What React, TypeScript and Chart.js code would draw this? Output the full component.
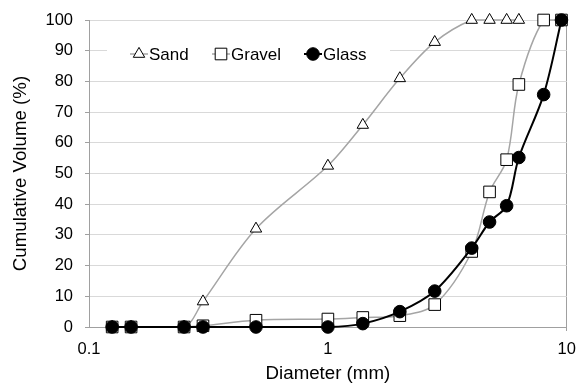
import React, { useEffect, useRef } from 'react';
import { Chart, registerables } from 'chart.js';

Chart.register(...registerables);

// ---- Data ----
const diameters = [0.125, 0.15, 0.25, 0.3, 0.5, 1, 1.4, 2, 2.8, 4, 4.75, 5.6, 6.3, 8, 9.5];
const sandValues = [0, 0, 0, 8.3, 32, 52.5, 65.8, 81, 92.8, 100, 100, 100, 100];
const gravelValues = [0, 0, 0, 0.4, 2.2, 2.6, 3.1, 3.7, 7.3, 24.6, 44, 54.5, 79, 100, 100];
const glassValues = [0, 0, 0, 0, 0, 0, 1.1, 5, 11.7, 25.7, 34.2, 39.5, 55.2, 75.7, 100];
const seriesNames = ['Sand', 'Gravel', 'Glass'];
const xTicks = [0.1, 1, 10];
const yMin = 0;
const yMax = 100;
const yStep = 10;
const xTitle = 'Diameter (mm)';
const yTitle = 'Cumulative Volume (%)';

const FONT = '"Liberation Sans", Arial, sans-serif';
const GRAY_LINE = '#a5a5a5';
const GRID = '#d9d9d9';
const AXIS = '#a0a0a0';

const toPoints = (vals: number[]) => vals.map((v, i) => ({ x: diameters[i], y: v }));

function drawMarker(ctx: CanvasRenderingContext2D, style: string, x: number, y: number, r: number, fill: string, stroke: string) {
  ctx.beginPath();
  if (style === 'triangle') {
    ctx.moveTo(x, y - r);
    ctx.lineTo(x + r * Math.sin((2 * Math.PI) / 3), y - r * Math.cos((2 * Math.PI) / 3));
    ctx.lineTo(x + r * Math.sin((4 * Math.PI) / 3), y - r * Math.cos((4 * Math.PI) / 3));
    ctx.closePath();
  } else if (style === 'rect') {
    const s = r * Math.SQRT1_2;
    ctx.rect(x - s, y - s, 2 * s, 2 * s);
  } else {
    ctx.arc(x, y, r, 0, Math.PI * 2);
    ctx.closePath();
  }
  ctx.fillStyle = fill;
  ctx.fill();
  ctx.lineWidth = 1;
  ctx.strokeStyle = stroke;
  ctx.stroke();
}

const insideLegend = {
  id: 'insideLegend',
  afterDatasetsDraw(chart: any) {
    const ctx: CanvasRenderingContext2D = chart.ctx;
    const ca = chart.chartArea;
    const cy = ca.top + 34;
    ctx.save();
    ctx.fillStyle = '#ffffff';
    ctx.fillRect(ca.left + 18, cy - 13, 283, 26);
    const markerX = [ca.left + 50, ca.left + 132, ca.left + 224];
    seriesNames.forEach((name, i) => {
      const ds = chart.data.datasets.find((d: any) => d.label === name);
      if (!ds) return;
      const mx = markerX[i];
      ctx.beginPath();
      ctx.moveTo(mx - 9, cy);
      ctx.lineTo(mx + 9, cy);
      ctx.strokeStyle = ds.borderColor;
      ctx.lineWidth = ds.borderWidth;
      ctx.stroke();
      drawMarker(ctx, ds.pointStyle, mx, cy, ds.pointRadius, ds.pointBackgroundColor, ds.pointBorderColor);
      ctx.fillStyle = '#000';
      ctx.font = `17px ${FONT}`;
      ctx.textBaseline = 'middle';
      ctx.textAlign = 'left';
      ctx.fillText(name, mx + 10, cy + 1);
    });
    ctx.restore();
  },
};

export default function App() {
  const ref = useRef<HTMLCanvasElement>(null);

  useEffect(() => {
    document.body.style.margin = '0';
    Chart.defaults.font.family = FONT;
    Chart.defaults.color = '#000';
    const chart = new Chart(ref.current!, {
      type: 'line',
      data: {
        datasets: [
          {
            label: seriesNames[2],
            data: toPoints(glassValues),
            borderColor: '#000000',
            borderWidth: 2,
            pointStyle: 'circle',
            pointRadius: 6.3,
            pointBackgroundColor: '#000000',
            pointBorderColor: '#000000',
            pointBorderWidth: 1,
            tension: 0.33,
            clip: false,
            order: 0,
          } as any,
          {
            label: seriesNames[1],
            data: toPoints(gravelValues),
            borderColor: GRAY_LINE,
            borderWidth: 1.5,
            pointStyle: 'rect',
            pointRadius: 8.2,
            pointBackgroundColor: '#ffffff',
            pointBorderColor: '#000000',
            pointBorderWidth: 1,
            tension: 0.33,
            clip: false,
            order: 1,
          } as any,
          {
            label: seriesNames[0],
            data: toPoints(sandValues),
            borderColor: GRAY_LINE,
            borderWidth: 1.5,
            pointStyle: 'triangle',
            pointRadius: 6.6,
            pointBackgroundColor: '#ffffff',
            pointBorderColor: '#000000',
            pointBorderWidth: 1,
            tension: 0.33,
            clip: false,
            order: 2,
          } as any,
        ],
      },
      options: {
        responsive: false,
        devicePixelRatio: 1,
        animation: false,
        layout: { padding: { top: 20, right: 9, left: 0, bottom: 0 } },
        plugins: {
          legend: { display: false },
          tooltip: { enabled: false },
        },
        scales: {
          x: {
            type: 'logarithmic',
            min: xTicks[0],
            max: xTicks[xTicks.length - 1],
            afterBuildTicks: (scale: any) => {
              scale.ticks = xTicks.map((v) => ({ value: v }));
            },
            afterFit: (scale: any) => {
              scale.height = 60;
              scale.paddingLeft = 0;
              scale.paddingRight = 0;
            },
            ticks: {
              autoSkip: false,
              maxRotation: 0,
              padding: 9,
              font: { size: 16.5 },
              callback: (v: any) => String(v),
            },
            grid: {
              color: (c: any) => (c.tick && c.tick.value === xTicks[xTicks.length - 1] ? AXIS : 'rgba(0,0,0,0)'),
              tickLength: 4,
              lineWidth: 1,
            },
            border: { display: true, color: AXIS, width: 1 },
            title: {
              display: true,
              text: xTitle,
              font: { size: 18.7 },
              padding: { top: 0, bottom: 1.5 },
            },
          },
          y: {
            type: 'linear',
            min: yMin,
            max: yMax,
            afterFit: (scale: any) => {
              scale.width = 89;
              scale.paddingTop = 0;
              scale.paddingBottom = 0;
            },
            ticks: {
              stepSize: yStep,
              padding: 12,
              font: { size: 16.5 },
            },
            grid: {
              color: GRID,
              tickColor: AXIS,
              tickLength: 4,
              lineWidth: 1,
            },
            border: { display: true, color: AXIS, width: 1 },
            title: {
              display: true,
              text: yTitle,
              font: { size: 18.7 },
              padding: { top: 9.3, bottom: 0 },
            },
          },
        },
      } as any,
      plugins: [insideLegend],
    });
    return () => chart.destroy();
  }, []);

  return (
    <div style={{ width: 576, height: 387 }}>
      <canvas ref={ref} width={576} height={387} style={{ display: 'block', width: 576, height: 387 }} />
    </div>
  );
}
